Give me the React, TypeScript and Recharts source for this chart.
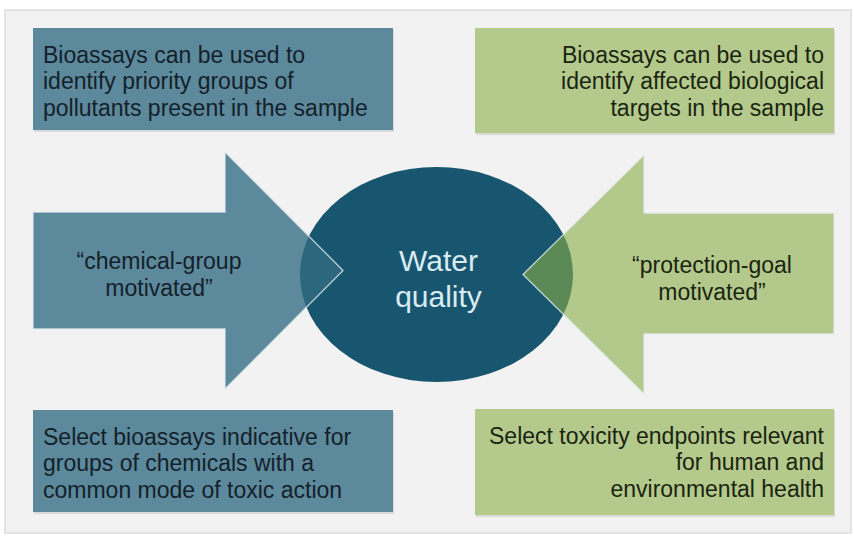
import React from 'react';
import { ComposedChart, XAxis, YAxis, ReferenceArea } from 'recharts';

// texts of the diagram
const topLeftLines = ['Bioassays can be used to', 'identify priority groups of', 'pollutants present in the sample'];
const topRightLines = ['Bioassays can be used to', 'identify affected biological', 'targets in the sample'];
const bottomLeftLines = ['Select bioassays indicative for', 'groups of chemicals with a', 'common mode of toxic action'];
const bottomRightLines = ['Select toxicity endpoints relevant', 'for human and', 'environmental health'];
const leftArrowLines = ['\u201Cchemical-group', 'motivated\u201D'];
const rightArrowLines = ['\u201Cprotection-goal', 'motivated\u201D'];
const centerLines = ['Water', 'quality'];

const W = 854;
const H = 537;
const FONT = '"Liberation Sans", Arial, Helvetica, sans-serif';

const BLUE_BOX = '#5c899b';
const GREEN_BOX = '#b4ca8c';
const ELLIPSE = '#185670';

// layout, in picture units (the axes map them 1:1)
const frame = { x1: 5, x2: 851, y1: 10, y2: 533 };

const boxes = [
  { lines: topLeftLines, x1: 33, x2: 393, y1: 28, y2: 130, fill: BLUE_BOX, ink: '#14212a', anchor: 'start' },
  { lines: topRightLines, x1: 475, x2: 834, y1: 28, y2: 133, fill: GREEN_BOX, ink: '#1a2410', anchor: 'end' },
  { lines: bottomLeftLines, x1: 33, x2: 393, y1: 410, y2: 512, fill: BLUE_BOX, ink: '#14212a', anchor: 'start' },
  { lines: bottomRightLines, x1: 475, x2: 834, y1: 409, y2: 515, fill: GREEN_BOX, ink: '#1a2410', anchor: 'end' },
];

const ellipse = { x1: 300, x2: 573, y1: 167, y2: 382 };

const arrows = [
  {
    lines: leftArrowLines, dir: 'right', x1: 33, x2: 343, y1: 152, y2: 389,
    bodyTop: 212, bodyBottom: 329, headX: 225, textX: 159,
    fill: '#326c83', opacity: 0.78, ink: '#14212a',
  },
  {
    lines: rightArrowLines, dir: 'left', x1: 523, x2: 834, y1: 155, y2: 394,
    bodyTop: 213, bodyBottom: 334, headX: 644, textX: 712,
    fill: '#89ad46', opacity: 0.6, ink: '#1a2410',
  },
];

const boxShape = (b: any) => (p: any) => {
  const tx = b.anchor === 'start' ? p.x + 10 : p.x + p.width - 10;
  return (
    <g>
      <rect x={p.x + 1} y={p.y + 2} width={p.width} height={p.height} fill="rgba(0,0,0,0.10)" />
      <rect x={p.x} y={p.y} width={p.width} height={p.height} fill={b.fill} />
      <text fontFamily={FONT} fontSize={23} fill={b.ink} textAnchor={b.anchor}>
        {b.lines.map((l: string, i: number) => (
          <tspan key={i} x={tx} y={p.y + 34.5 + i * 26.5}>{l}</tspan>
        ))}
      </text>
    </g>
  );
};

const arrowShape = (a: any) => (p: any) => {
  const sy = p.height / (a.y2 - a.y1);
  const sx = p.width / (a.x2 - a.x1);
  const top = p.y;
  const bottom = p.y + p.height;
  const mid = p.y + p.height / 2;
  const bt = p.y + (a.bodyTop - a.y1) * sy;
  const bb = p.y + (a.bodyBottom - a.y1) * sy;
  const hx = p.x + (a.headX - a.x1) * sx;
  const tail = a.dir === 'right' ? p.x : p.x + p.width;
  const tip = a.dir === 'right' ? p.x + p.width : p.x;
  const pts = [
    [tail, bt], [hx, bt], [hx, top], [tip, mid], [hx, bottom], [hx, bb], [tail, bb],
  ].map((q) => q.join(',')).join(' ');
  const tx = p.x + (a.textX - a.x1) * sx;
  return (
    <g>
      <polygon points={pts} fill={a.fill} fillOpacity={a.opacity} stroke="#e4eef0" strokeWidth={1.3} strokeOpacity={0.8} />
      <text fontFamily={FONT} fontSize={23} fill={a.ink} textAnchor="middle">
        {a.lines.map((l: string, i: number) => (
          <tspan key={i} x={tx} y={mid - 2 + i * 27}>{l}</tspan>
        ))}
      </text>
    </g>
  );
};

const ellipseShape = (p: any) => {
  const cx = p.x + p.width / 2;
  const cy = p.y + p.height / 2;
  return (
    <g>
      <ellipse cx={cx} cy={cy} rx={p.width / 2} ry={p.height / 2} fill={ELLIPSE} />
      <text fontFamily={FONT} fontSize={30} fill="#d8ecf2" textAnchor="middle">
        {centerLines.map((l, i) => (
          <tspan key={i} x={cx + 2} y={cy - 4 + i * 36}>{l}</tspan>
        ))}
      </text>
    </g>
  );
};

const frameShape = (p: any) => (
  <rect x={p.x} y={p.y} width={p.width} height={p.height} fill="#f2f2f2" stroke="#dcdcdc" strokeWidth={1.5} />
);

export default function App() {
  return (
    <div style={{ position: 'absolute', left: 0, top: 0, width: W, height: H, background: '#ffffff' }}>
      <ComposedChart width={W} height={H} margin={{ top: 0, right: 0, bottom: 0, left: 0 }}>
        <XAxis type="number" dataKey="x" domain={[0, W]} allowDataOverflow hide />
        <YAxis type="number" dataKey="y" domain={[0, H]} allowDataOverflow reversed hide />
        <ReferenceArea x1={frame.x1} x2={frame.x2} y1={frame.y1} y2={frame.y2} shape={frameShape} ifOverflow="visible" />
        {boxes.map((b, i) => (
          <ReferenceArea key={'b' + i} x1={b.x1} x2={b.x2} y1={b.y1} y2={b.y2} shape={boxShape(b)} ifOverflow="visible" />
        ))}
        <ReferenceArea x1={ellipse.x1} x2={ellipse.x2} y1={ellipse.y1} y2={ellipse.y2} shape={ellipseShape} ifOverflow="visible" />
        {arrows.map((a, i) => (
          <ReferenceArea key={'a' + i} x1={a.x1} x2={a.x2} y1={a.y1} y2={a.y2} shape={arrowShape(a)} ifOverflow="visible" />
        ))}
      </ComposedChart>
    </div>
  );
}
